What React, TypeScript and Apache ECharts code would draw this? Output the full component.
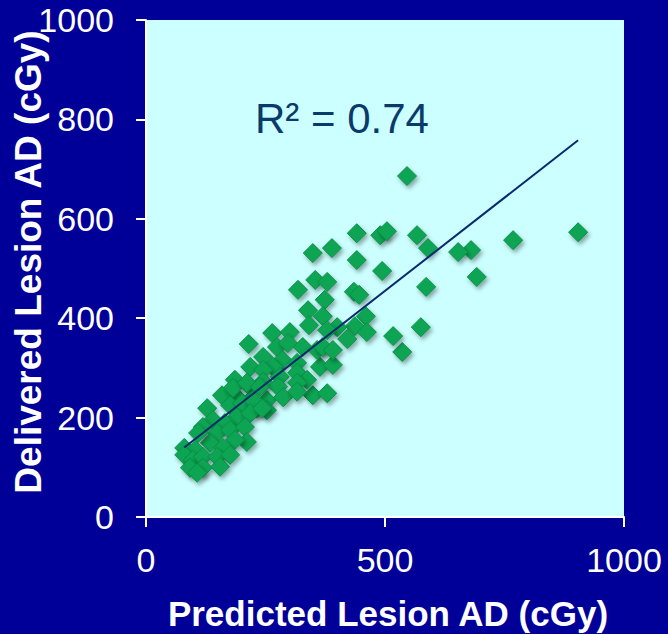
import React, { useEffect, useRef } from "react";
import * as echarts from "echarts";

const predicted = [
  546, 904, 768, 692, 680, 653, 586, 575, 536, 517, 567, 590, 490, 504, 494, 441, 441, 435, 446, 389,
  349, 354, 379, 318, 374, 339, 370, 460, 437, 462, 400, 421, 364, 391, 349, 379, 341, 379, 264, 301,
  215, 274, 297, 328, 358, 370, 391, 245, 285, 316, 266, 218, 245, 280, 316, 337, 186, 218, 245, 276,
  316, 190, 218, 253, 287, 316, 197, 232, 253, 128, 159, 182, 211, 238, 176, 201, 224, 190, 218, 243,
  140, 165, 119, 149, 176, 207, 211, 186, 134, 161, 109, 80, 103, 80, 98, 119, 149, 176, 92, 119,
  155, 107,
];
const delivered = [
  686, 573, 557, 483, 537, 533, 463, 382, 332, 364, 567, 541, 567, 575, 495, 571, 517, 453, 447, 541,
  531, 477, 473, 457, 437, 416, 404, 404, 384, 372, 382, 358, 302, 306, 245, 249, 386, 376, 370, 372,
  348, 342, 350, 342, 336, 342, 336, 322, 316, 310, 302, 302, 296, 282, 290, 276, 276, 262, 272, 262,
  270, 241, 235, 235, 241, 252, 215, 219, 215, 219, 245, 260, 270, 262, 225, 229, 235, 201, 209, 219,
  195, 189, 181, 169, 175, 181, 151, 155, 149, 139, 169, 139, 135, 125, 115, 121, 121, 125, 99, 99,
  101, 89,
];
const trendSlope = 0.75;
const trendIntercept = 80;
const rSquaredLabel = "R\u00b2 = 0.74";
const xTicks = [0, 500, 1000];
const yTicks = [0, 200, 400, 600, 800, 1000];
const xTitle = "Predicted Lesion AD (cGy)";
const yTitle = "Delivered Lesion AD (cGy)";

export default function App() {
  const ref = useRef<HTMLDivElement>(null);
  useEffect(() => {
    if (!ref.current) return;
    const chart = echarts.init(ref.current, undefined, { renderer: "svg" });
    const points = predicted.map((x, i) => [x, delivered[i]]);
    const xMin = Math.min(...predicted);
    const xMax = Math.max(...predicted);
    const trend = [
      [xMin, trendSlope * xMin + trendIntercept],
      [xMax, trendSlope * xMax + trendIntercept],
    ];
    const font = "'Liberation Sans', Arial, sans-serif";
    chart.setOption({
      animation: false,
      backgroundColor: "#000099",
      grid: {
        left: 146,
        right: 44,
        top: 20,
        bottom: 117,
        show: true,
        backgroundColor: "#ccffff",
        borderWidth: 0,
      },
      xAxis: {
        type: "value",
        min: xTicks[0],
        max: xTicks[xTicks.length - 1],
        interval: 500,
        splitLine: { show: false },
        axisLine: { show: true, lineStyle: { color: "#ffffff", width: 2 } },
        axisTick: { show: true, inside: false, length: 10, lineStyle: { color: "#ffffff", width: 2 } },
        axisLabel: { color: "#ffffff", fontSize: 34, fontFamily: font, margin: 26, formatter: (v: number) => String(v) },
      },
      yAxis: {
        type: "value",
        min: yTicks[0],
        max: yTicks[yTicks.length - 1],
        interval: 200,
        splitLine: { show: false },
        axisLine: { show: true, lineStyle: { color: "#ffffff", width: 2 } },
        axisTick: { show: true, inside: false, length: 10, lineStyle: { color: "#ffffff", width: 2 } },
        axisLabel: { color: "#ffffff", fontSize: 34, fontFamily: font, margin: 32, formatter: (v: number) => String(v) },
      },
      series: [
        {
          type: "scatter",
          data: points,
          symbol: "diamond",
          symbolSize: 19,
          itemStyle: {
            color: "#0aa552",
            opacity: 1,
            borderColor: "#078f45",
            borderWidth: 1,
            shadowBlur: 4,
            shadowColor: "rgba(0,0,0,0.35)",
            shadowOffsetX: 2,
            shadowOffsetY: 3,
          },
          z: 2,
        },
        {
          type: "line",
          data: trend,
          symbol: "none",
          lineStyle: { color: "#0a2a6e", width: 2 },
          z: 3,
        },
      ],
      graphic: [
        {
          type: "text",
          x: 255,
          y: 118,
          style: {
            text: rSquaredLabel,
            fill: "#0a3a6a",
            font: `42px ${font}`,
            align: "left",
            verticalAlign: "middle",
          },
          z: 10,
        },
        {
          type: "text",
          x: 388,
          y: 613,
          style: {
            text: xTitle,
            fill: "#ffffff",
            font: `bold 35px ${font}`,
            align: "center",
            verticalAlign: "middle",
          },
        },
        {
          type: "text",
          x: 28,
          y: 262,
          rotation: Math.PI / 2,
          style: {
            text: yTitle,
            fill: "#ffffff",
            font: `bold 37px ${font}`,
            align: "center",
            verticalAlign: "middle",
          },
        },
      ],
    });
    return () => chart.dispose();
  }, []);
  return (
    <div
      ref={ref}
      style={{ position: "absolute", left: 0, top: 0, width: 668, height: 634 }}
    />
  );
}
